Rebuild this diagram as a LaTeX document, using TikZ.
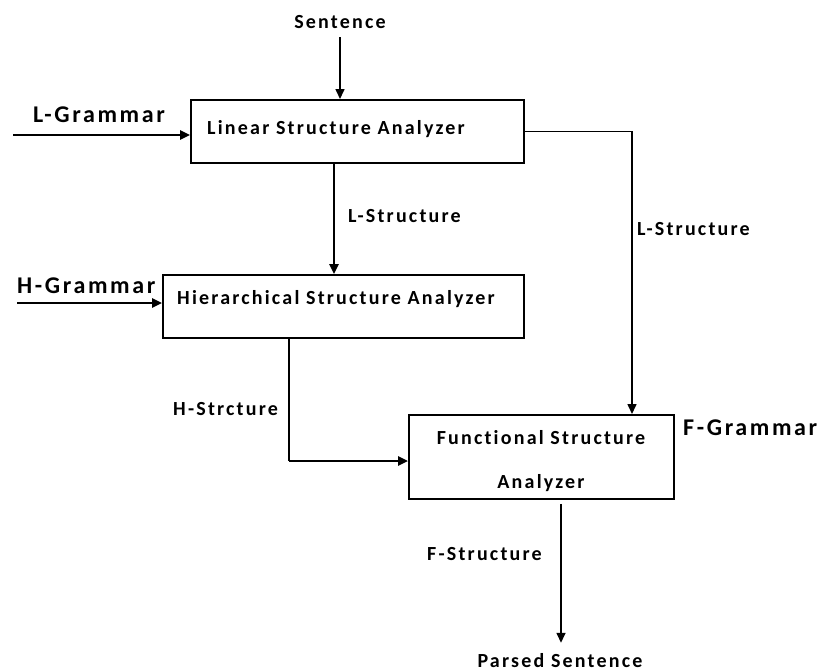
\documentclass[tikz,border=0pt]{standalone}
\usepackage{fontspec}
\setmainfont{Carlito}[LetterSpace=11, Ligatures={NoCommon}]
\usetikzlibrary{arrows.meta,calc}
\begin{document}
\begin{tikzpicture}[x=1pt,y=-1pt,
  every node/.style={font=\fontsize{20}{24}\selectfont\bfseries, inner sep=0pt},
  big/.style={font=\fontsize{24}{28}\selectfont\bfseries},
  boxst/.style={draw, line width=1.8pt, anchor=north west},
  thin/.style={line width=1.6pt},
  heavy/.style={line width=2.4pt},
  arr/.style={-{Triangle[length=10pt,width=9pt]}}
]
\useasboundingbox (0,0) rectangle (825,672);

% boxes
\node[boxst, minimum width=333pt, minimum height=63pt] (lin) at (190,99) {};
\node[anchor=base west] (lintxt) at (207,134) {Linear Structure Analyzer};
\node[boxst, minimum width=361pt, minimum height=63pt] (hier) at (162,274) {};
\node[anchor=base west] (hiertxt) at (177,304) {Hierarchical Structure Analyzer};
\node[boxst, minimum width=265pt, minimum height=84pt] (fun) at (408,414) {};
\node[anchor=base] (funtxtA) at (541,444) {Functional Structure};
\node[anchor=base] (funtxtB) at (541,488) {Analyzer};

% labels
\node[anchor=base] (sent) at (340,28) {Sentence};
\node[big, anchor=base west] (lg) at (33,122) {L-Grammar};
\node[big, anchor=base west] (hg) at (17,293) {H-Grammar};
\node[big, anchor=base west] (fg) at (683,435) {F-Grammar};
\node[anchor=base west] (lsA) at (348,222) {L-Structure};
\node[anchor=base west] (lsB) at (637,235) {L-Structure};
\node[anchor=base west] (hs) at (173,415) {H-Strcture};
\node[anchor=base west] (fs) at (427,560) {F-Structure};
\node[anchor=base] (ps) at (560,667) {Parsed Sentence};

% helper coordinates
\coordinate (lgin) at (13,135);
\coordinate (hgin) at (17,303);
\coordinate (lsx) at (334,0);
\coordinate (rx) at (632,0);
\coordinate (hx) at (289,461);
\coordinate (ox) at (561,0);

% connectors
\draw[thin, arr, shorten <=9pt] (sent.south) -- (sent.south |- lin.north);
\draw[heavy, arr] (lgin) -- (lgin -| lin.west);
\draw[heavy, arr] (lsx |- lin.south) -- (lsx |- hier.north);
\draw[heavy, arr] (hgin) -- (hgin -| hier.west);
\draw[thin, arr] (lin.east) -| (rx |- fun.north);
\draw[thin] (hx |- hier.south) -- (hx);
\draw[heavy, arr] (hx) -- (hx -| fun.west);
\draw[thin, arr, shorten <=4pt, shorten >=10pt] (ox |- fun.south) -- (ox |- ps.north);
\end{tikzpicture}
\end{document}
